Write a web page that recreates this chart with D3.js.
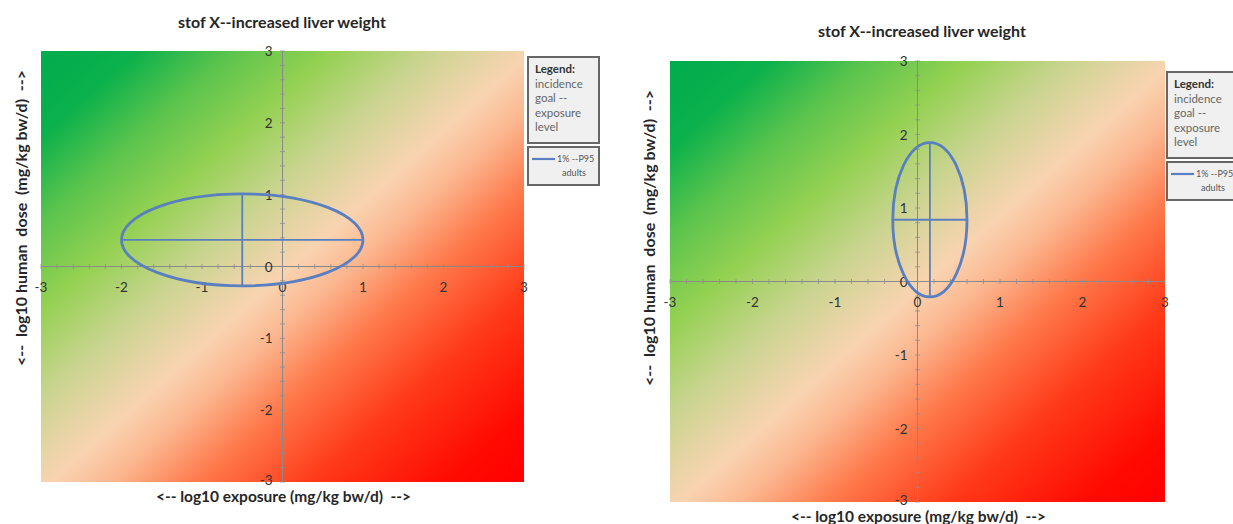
<!DOCTYPE html>
<html>
<head>
<meta charset="utf-8">
<script src="https://cdn.jsdelivr.net/npm/d3@7"></script>
<style>
  body { margin: 0; background: #fff; }
  svg { display: block; font-family: Lato, "Open Sans", sans-serif; }
</style>
</head>
<body>
<div id="chart"></div>
<script>
'use strict';

// Chart data
const chartTitles = ['stof X--increased liver weight', 'stof X--increased liver weight'];
const xAxisTitle = '<-- log10 exposure (mg/kg bw/d)  -->';
const yAxisTitle = '<--  log10 human  dose  (mg/kg bw/d)  -->';
const xTicks = [-3, -2, -1, 0, 1, 2, 3];
const yTicks = [-3, -2, -1, 0, 1, 2, 3];
const legendHeader = ['Legend:', 'incidence', 'goal --', 'exposure', 'level'];
const seriesName = ['1% --P95', 'adults'];

// ellipse per panel: centre and half-widths in log10 units
const centerX = [-0.5, 0.15];
const centerY = [0.37, 0.84];
const radiusX = [1.5, 0.45];
const radiusY = [0.64, 1.05];

// panel boxes on the page
const panels = [
    {left: 41, right: 524, top: 51, bottom: 482, titleX: 282, titleY: 28, xTitleY: 502,
        yTitleX: 27, yTitleY: 218, legX: 528, legY: 57},
    {left: 670, right: 1165, top: 61, bottom: 502, titleX: 922, titleY: 37, xTitleY: 522,
        yTitleX: 655, yTitleY: 238, legX: 1167, legY: 72}
];

const svg = d3.select('#chart').append('svg')
    .attr('width', 1233)
    .attr('height', 524);

const defs = svg.append('defs');
const grad = defs.append('linearGradient')
    .attr('id', 'riskGrad')
    .attr('x1', 0).attr('y1', 0).attr('x2', 1).attr('y2', 1);

[
    [0.00, '#00ac4d'],
    [0.10, '#0bb14c'],
    [0.20, '#5cc44d'],
    [0.30, '#94d152'],
    [0.40, '#c8d48e'],
    [0.47, '#e8d4a6'],
    [0.51, '#f9d3b0'],
    [0.57, '#fbb891'],
    [0.66, '#fe7a4c'],
    [0.78, '#ff3a18'],
    [0.92, '#ff0a02'],
    [1.00, '#ff0000']
].forEach(s => grad.append('stop').attr('offset', s[0]).attr('stop-color', s[1]));

panels.forEach((p, i) => drawPanel(p, i));

/**
 * Draws one chart panel.
 */
function drawPanel(p, i) {
    var x = d3.scaleLinear().domain([-3, 3]).range([p.left, p.right]);
    var y = d3.scaleLinear().domain([-3, 3]).range([p.bottom, p.top]);
    var g = svg.append('g');

    g.append('rect')
        .attr('x', x(-3)).attr('y', y(3))
        .attr('width', x(3) - x(-3)).attr('height', y(-3) - y(3))
        .attr('fill', 'url(#riskGrad)');

    // minor ticks every 0.2
    var minor = d3.range(-3, 3.001, 0.2);
    g.selectAll('.mx').data(minor).enter().append('line')
        .attr('x1', d => x(d)).attr('x2', d => x(d))
        .attr('y1', y(0) - 2.5).attr('y2', y(0) + 2.5)
        .attr('stroke', '#8f8f8f').attr('stroke-width', 0.8);
    g.selectAll('.my').data(minor).enter().append('line')
        .attr('y1', d => y(d)).attr('y2', d => y(d))
        .attr('x1', x(0) - 2.5).attr('x2', x(0) + 2.5)
        .attr('stroke', '#8f8f8f').attr('stroke-width', 0.8);

    // axes through the origin
    g.append('line')
        .attr('x1', x(-3)).attr('x2', x(3)).attr('y1', y(0)).attr('y2', y(0))
        .attr('stroke', '#8a8a8a').attr('stroke-width', 1);
    g.append('line')
        .attr('x1', x(0)).attr('x2', x(0)).attr('y1', y(3)).attr('y2', y(-3))
        .attr('stroke', '#8a8a8a').attr('stroke-width', 1);

    g.selectAll('.xl').data(xTicks).enter().append('text')
        .attr('x', d => x(d)).attr('y', y(0) + 25)
        .attr('text-anchor', 'middle')
        .attr('font-size', 13.5).attr('fill', '#333')
        .text(d => d);
    g.selectAll('.yl').data(yTicks).enter().append('text')
        .attr('x', x(0) - 10).attr('y', d => y(d) + (d === -3 ? 3 : 5))
        .attr('text-anchor', 'end')
        .attr('font-size', 13.5).attr('fill', '#333')
        .text(d => d);

    // ellipse with its two axes
    var stroke = '#5a7fc0';
    g.append('line')
        .attr('x1', x(centerX[i] - radiusX[i])).attr('x2', x(centerX[i] + radiusX[i]))
        .attr('y1', y(centerY[i])).attr('y2', y(centerY[i]))
        .attr('stroke', stroke).attr('stroke-width', 1.8);
    g.append('line')
        .attr('x1', x(centerX[i])).attr('x2', x(centerX[i]))
        .attr('y1', y(centerY[i] + radiusY[i])).attr('y2', y(centerY[i] - radiusY[i]))
        .attr('stroke', stroke).attr('stroke-width', 1.8);
    g.append('ellipse')
        .attr('cx', x(centerX[i])).attr('cy', y(centerY[i]))
        .attr('rx', x(centerX[i] + radiusX[i]) - x(centerX[i]))
        .attr('ry', y(centerY[i]) - y(centerY[i] + radiusY[i]))
        .attr('fill', 'none').attr('stroke', stroke).attr('stroke-width', 2.8);

    // titles
    svg.append('text')
        .attr('x', p.titleX).attr('y', p.titleY)
        .attr('text-anchor', 'middle').attr('font-weight', 'bold')
        .attr('font-size', 16).attr('fill', '#262626')
        .text(chartTitles[i]);
    svg.append('text')
        .attr('x', (p.left + p.right) / 2 + 1).attr('y', p.xTitleY)
        .attr('text-anchor', 'middle').attr('font-weight', 'bold')
        .attr('font-size', 15.5).attr('fill', '#262626')
        .attr('xml:space', 'preserve')
        .text(xAxisTitle);
    svg.append('text')
        .attr('transform', 'translate(' + p.yTitleX + ',' + p.yTitleY + ') rotate(-90)')
        .attr('text-anchor', 'middle').attr('font-weight', 'bold')
        .attr('font-size', 16).attr('fill', '#262626')
        .attr('xml:space', 'preserve')
        .text(yAxisTitle);

    // legend
    var lg = svg.append('g').attr('transform', 'translate(' + p.legX + ',' + p.legY + ')');
    lg.append('rect')
        .attr('x', 0).attr('y', 0).attr('width', 71).attr('height', 86)
        .attr('fill', '#f0f0f0').attr('stroke', '#666').attr('stroke-width', 2);
    lg.selectAll('.lh').data(legendHeader).enter().append('text')
        .attr('x', 7).attr('y', (d, k) => 16 + k * 14.5)
        .attr('font-size', 11.5)
        .attr('font-weight', (d, k) => k === 0 ? 'bold' : 'normal')
        .attr('fill', (d, k) => k === 0 ? '#333' : '#666')
        .text(d => d);
    lg.append('rect')
        .attr('x', 0).attr('y', 90).attr('width', 71).attr('height', 38)
        .attr('fill', '#f0f0f0').attr('stroke', '#666').attr('stroke-width', 2);
    lg.append('line')
        .attr('x1', 4).attr('x2', 27).attr('y1', 102).attr('y2', 102)
        .attr('stroke', stroke).attr('stroke-width', 2.2);
    lg.append('text')
        .attr('x', 29).attr('y', 105)
        .attr('font-size', 9).attr('fill', '#555')
        .text(seriesName[0]);
    lg.append('text')
        .attr('x', 46).attr('y', 119)
        .attr('text-anchor', 'middle')
        .attr('font-size', 9).attr('fill', '#555')
        .text(seriesName[1]);
}
</script>
</body>
</html>
